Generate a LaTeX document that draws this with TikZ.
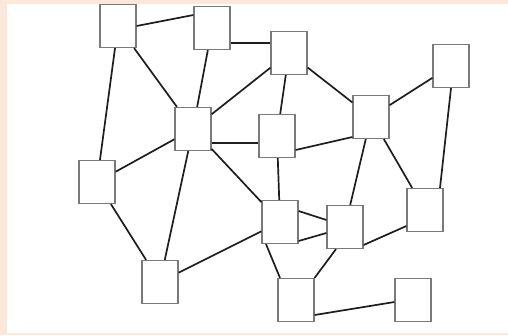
\documentclass[tikz,border=0pt]{standalone}
\definecolor{peach}{HTML}{FCE8DA}
\definecolor{boxgray}{HTML}{7A7A7A}
\definecolor{edgecol}{HTML}{1E1E1E}
\begin{document}
\begin{tikzpicture}[x=1pt,y=-1pt,
  box/.style={draw=boxgray,line width=1.2pt,fill=white,minimum width=36pt,minimum height=43pt,inner sep=0pt},
  link/.style={draw=edgecol,line width=1.7pt}]
\fill[peach] (0,0) rectangle (508,335);
\fill[white] (7,4) rectangle (508,333);
\useasboundingbox (0,0) rectangle (508,335);
\node[box] (A) at (118,26) {};
\node[box] (B) at (212,28) {};
\node[box] (C) at (289,53) {};
\node[box] (D) at (451,66) {};
\node[box] (E) at (193,129) {};
\node[box] (F) at (277,136) {};
\node[box] (G) at (371,117) {};
\node[box] (H) at (97,182) {};
\node[box] (I) at (280,222) {};
\node[box] (J) at (345,227) {};
\node[box] (K) at (425,210) {};
\node[box] (L) at (160,282) {};
\node[box] (M) at (296,300) {};
\node[box] (N) at (413,300) {};
\draw[link] (A.east) -- ([yshift=13pt]B.west);
\draw[link] (A) -- (H);
\draw[link] (A) -- (E);
\draw[link] (B) -- (E);
\draw[link] (B.east |- 0,43) -- (C.west |- 0,43);
\draw[link] (C) -- (E);
\draw[link] (C) -- (F);
\draw[link] (C) -- (G);
\draw[link] (D) -- (G);
\draw[link] (D.south) -- ([xshift=15pt]K.north);
\draw[link] (E) -- (H);
\draw[link] (E.east |- 0,143) -- (F.west |- 0,143);
\draw[link] (E) -- (L);
\draw[link] (E) -- (I);
\draw[link] ([yshift=-14pt]F.east) -- ([yshift=-20pt]G.west);
\draw[link] (F) -- (I);
\draw[link] (G) -- (J);
\draw[link] (G) -- (K);
\draw[link] (H) -- (L);
\draw[link] (L) -- (I);
\draw[link] ([yshift=11pt]I.east) -- ([yshift=7pt]J.west);
\draw[link] ([yshift=-19pt]I.east) -- ([yshift=-6pt]J.west);
\draw[link] ([xshift=-14pt]I.south) -- ([xshift=-16pt]M.north);
\draw[link] ([xshift=-9pt]J.south) -- (M.north east);
\draw[link] ([yshift=-18pt]J.east) -- ([yshift=-16pt]K.west);
\draw[link] ([yshift=-15pt]M.east) -- ([yshift=-2pt]N.west);
\end{tikzpicture}
\end{document}
